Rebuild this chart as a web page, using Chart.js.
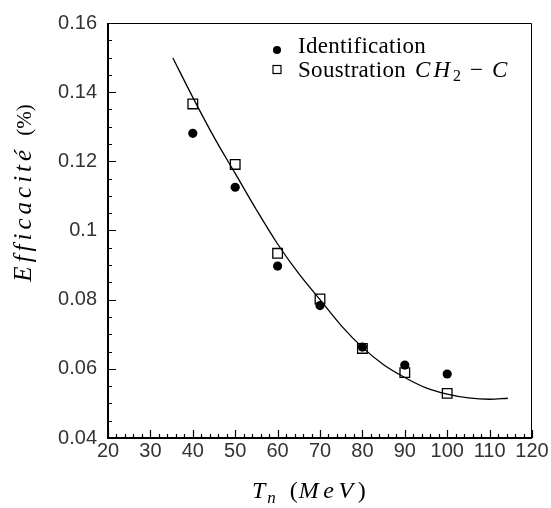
<!DOCTYPE html>
<html>
<head>
<meta charset="utf-8">
<script src="https://cdn.jsdelivr.net/npm/chart.js@4"></script>
<style>
  html, body { margin: 0; padding: 0; background: #fff; }
  #wrap { width: 551px; height: 508px; }
</style>
</head>
<body>
<div id="wrap"><canvas id="chart1"></canvas></div>
<script>
// data
const energies = [40, 50, 60, 70, 80, 90, 100]
const identification = [0.1281, 0.1125, 0.0897, 0.0783, 0.0663, 0.0611, 0.0585]
const soustraction = [0.1366, 0.1191, 0.0934, 0.0802, 0.0659, 0.0589, 0.0529]

const fitEnergies = [35.3, 40, 45, 50, 55, 60, 65, 70, 75, 80, 85, 90, 95, 100, 105, 110, 114.3]
const fitValues = [0.1499, 0.1385, 0.127, 0.1165, 0.106, 0.0961, 0.0875, 0.080, 0.0725, 0.0662, 0.0612, 0.0575, 0.0545, 0.0527, 0.0516, 0.0512, 0.0515]

const xTicks = [20, 30, 40, 50, 60, 70, 80, 90, 100, 110, 120]
const yTicks = [0.04, 0.06, 0.08, 0.1, 0.12, 0.14, 0.16]

const toPoints = (xs, ys) => xs.map((x, i) => ({ x: x, y: ys[i] }))

const tickFont = { family: 'Liberation Sans', size: 20 }
const serif = 'Liberation Serif'

// inward ticks, frame, axis titles and legend
const decorations = {
    id: 'decorations',
    afterDraw(chart) {
        const ctx = chart.ctx
        const area = chart.chartArea
        const xs = chart.scales.x
        const ys = chart.scales.y
        ctx.save()
        ctx.strokeStyle = '#000'

        // frame
        ctx.lineWidth = 1
        ctx.beginPath()
        ctx.moveTo(area.left, area.top + 0.5)
        ctx.lineTo(area.right - 0.5, area.top + 0.5)
        ctx.lineTo(area.right - 0.5, area.bottom)
        ctx.stroke()
        ctx.lineWidth = 2
        ctx.beginPath()
        ctx.moveTo(area.left, area.top)
        ctx.lineTo(area.left, area.bottom)
        ctx.lineTo(area.right, area.bottom)
        ctx.stroke()

        // ticks
        ctx.lineWidth = 1.2
        ctx.beginPath()
        for (let v = xTicks[0]; v <= xTicks[xTicks.length - 1]; v += 2) {
            const px = Math.round(xs.getPixelForValue(v)) + 0.5
            const len = v % 10 === 0 ? 8 : 4
            ctx.moveTo(px, area.bottom)
            ctx.lineTo(px, area.bottom - len)
        }
        for (let k = 0; k <= 24; k++) {
            const v = yTicks[0] + k * 0.005
            const py = Math.round(ys.getPixelForValue(v)) + 0.5
            const len = k % 4 === 0 ? 8 : 4
            ctx.moveTo(area.left, py)
            ctx.lineTo(area.left + len, py)
        }
        ctx.stroke()

        ctx.fillStyle = '#000'
        ctx.textBaseline = 'alphabetic'

        // x title: T_n (MeV)
        let x = 252
        const by = 498
        const piece = (txt, font, dy, ls) => {
            ctx.font = font
            ctx.letterSpacing = (ls || 0) + 'px'
            ctx.fillText(txt, x, by + (dy || 0))
            x += ctx.measureText(txt).width
            ctx.letterSpacing = '0px'
        }
        piece('T', 'italic 24px ' + serif, 0, 2)
        piece('n', 'italic 17px ' + serif, 5)
        x += 14
        piece('(', '24px ' + serif)
        x += 1
        piece('MeV', 'italic 24px ' + serif, 0, 4.5)
        piece(')', '24px ' + serif)

        // y title: Efficacité (%)
        ctx.save()
        ctx.translate(31, 193)
        ctx.rotate(-Math.PI / 2)
        ctx.font = 'italic 25px ' + serif
        ctx.letterSpacing = '4px'
        const w1 = ctx.measureText('Efficacité').width
        ctx.letterSpacing = '0px'
        ctx.font = '21px ' + serif
        const w2 = ctx.measureText('(%)').width
        const gap = 10
        let sx = -(w1 + gap + w2) / 2
        ctx.font = 'italic 25px ' + serif
        ctx.letterSpacing = '4px'
        ctx.fillText('Efficacité', sx, 0)
        ctx.letterSpacing = '0px'
        ctx.font = '21px ' + serif
        ctx.fillText('(%)', sx + w1 + gap, 0)
        ctx.restore()

        // legend
        ctx.beginPath()
        ctx.arc(277, 50, 4, 0, Math.PI * 2)
        ctx.fill()
        ctx.lineWidth = 1.2
        ctx.strokeRect(273, 65.5, 8, 8)
        x = 298
        ctx.font = '23px ' + serif
        ctx.letterSpacing = '0.3px'
        ctx.fillText('Identification', x, 53)
        ctx.fillText('Soustration', x, 77)
        x += ctx.measureText('Soustration').width + 9
        ctx.letterSpacing = '0px'
        const piece2 = (txt, font, dy, ls) => {
            ctx.font = font
            ctx.letterSpacing = (ls || 0) + 'px'
            ctx.fillText(txt, x, 77 + (dy || 0))
            x += ctx.measureText(txt).width
            ctx.letterSpacing = '0px'
        }
        piece2('CH', 'italic 23px ' + serif, 0, 3)
        piece2('2', '16px ' + serif, 4)
        x += 9
        piece2('\u2212', '23px ' + serif)
        x += 9
        piece2('C', 'italic 23px ' + serif)

        ctx.restore()
    }
}

new Chart('chart1', {
    type: 'scatter',
    data: {
        datasets: [
            {
                label: 'Identification',
                data: toPoints(energies, identification),
                pointStyle: 'circle',
                pointRadius: 4.6,
                pointBackgroundColor: '#000',
                pointBorderColor: '#000',
                pointBorderWidth: 0,
                order: 0
            },
            {
                label: 'Soustration CH2 - C',
                data: toPoints(energies, soustraction),
                pointStyle: 'rect',
                pointRadius: 6.8,
                pointBackgroundColor: 'rgba(255,255,255,0)',
                pointBorderColor: '#000',
                pointBorderWidth: 1.3,
                order: 1
            },
            {
                label: 'fit',
                type: 'line',
                data: toPoints(fitEnergies, fitValues),
                borderColor: '#000',
                borderWidth: 1.3,
                pointRadius: 0,
                fill: false,
                cubicInterpolationMode: 'monotone',
                order: 2
            }
        ]
    },
    options: {
        responsive: true,
        maintainAspectRatio: false,
        animation: false,
        events: [],
        layout: { padding: { left: 0, top: 16, right: 19, bottom: 0 } },
        plugins: { legend: { display: false }, tooltip: { enabled: false } },
        scales: {
            x: {
                type: 'linear',
                min: 20,
                max: 120,
                afterBuildTicks: scale => { scale.ticks = xTicks.map(v => ({ value: v })) },
                afterFit: scale => { scale.height = 70 },
                grid: { display: false, drawTicks: false, tickLength: 0 },
                border: { display: false },
                ticks: { font: tickFont, color: '#333', padding: 1, maxRotation: 0, autoSkip: false }
            },
            y: {
                type: 'linear',
                min: 0.04,
                max: 0.16,
                afterBuildTicks: scale => { scale.ticks = yTicks.map(v => ({ value: v })) },
                afterFit: scale => { scale.width = 108 },
                grid: { display: false, drawTicks: false, tickLength: 0 },
                border: { display: false },
                ticks: { font: tickFont, color: '#333', padding: 11, callback: v => String(+v.toFixed(2)) }
            }
        }
    },
    plugins: [decorations]
})
</script>
</body>
</html>
